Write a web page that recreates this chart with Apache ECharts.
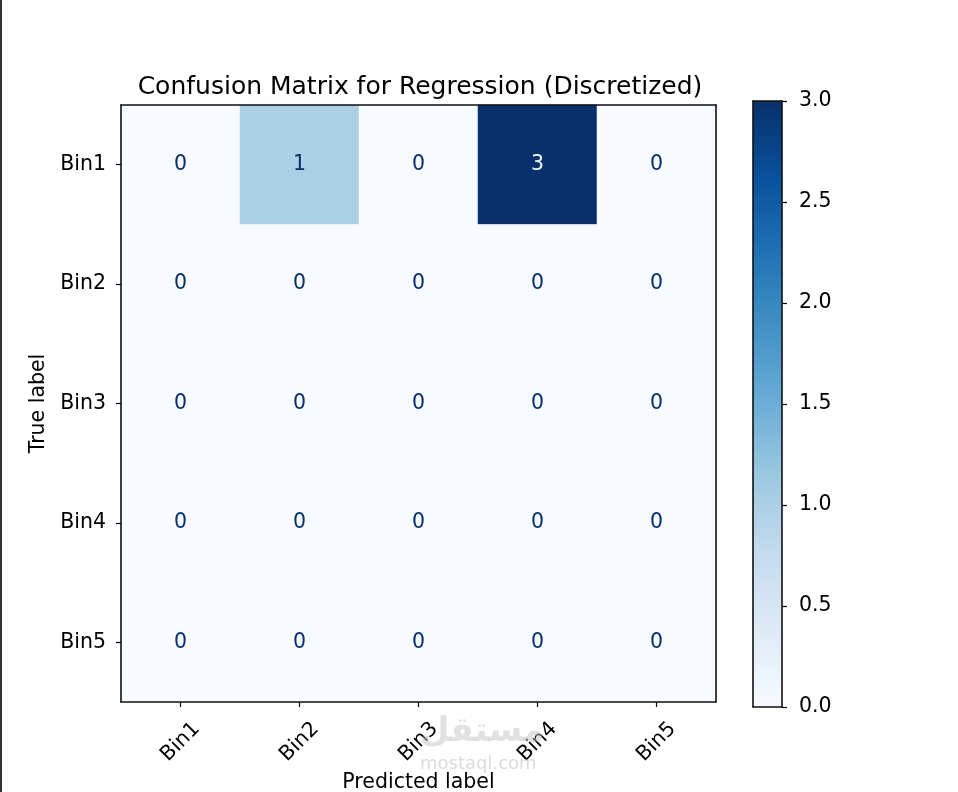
<!DOCTYPE html>
<html><head><meta charset="utf-8">
<script src="https://cdn.jsdelivr.net/npm/echarts@6/dist/echarts.min.js"></script>
<style>html,body{margin:0;padding:0;background:#fff}#c{width:958px;height:792px}</style>
</head><body><div id="c"></div>
<script>
const predictedLabels = ['Bin1','Bin2','Bin3','Bin4','Bin5'];
const trueLabels = ['Bin1','Bin2','Bin3','Bin4','Bin5'];
// rows = true label, columns = predicted label
const matrix = [
  [0,1,0,3,0],
  [0,0,0,0,0],
  [0,0,0,0,0],
  [0,0,0,0,0],
  [0,0,0,0,0]
];
const colorbarTicks = [0,0.5,1,1.5,2,2.5,3];
const titleText = 'Confusion Matrix for Regression (Discretized)';

const blues = ['#f7fbff','#deebf7','#c6dbef','#9ecae1','#6baed6','#4292c6','#2171b5','#08519c','#08306b'];
const FONT = 'DejaVu Sans';
const FS = 20.5;
const vmin = 0, vmax = Math.max(...matrix.flat());
const thresh = (vmin + vmax) / 2;

const cells = [];
matrix.forEach((row, r) => row.forEach((v, c) => {
  cells.push({value:[c, r, v], label:{color: v > thresh ? blues[0] : blues[8]}});
}));

const spine = {show:true, onZero:false, lineStyle:{color:'#111', width:1.6}};
const bare = {axisTick:{show:false}, axisLabel:{show:false}, splitLine:{show:false}};
const chart = echarts.init(document.getElementById('c'), null, {renderer:'canvas'});
const gradStops = blues.map((c,i)=>({offset: i/(blues.length-1), color: c}));
chart.setOption({
  animation:false,
  backgroundColor:'#fff',
  textStyle:{fontFamily:FONT},
  title:{text:titleText, left:415, top:70, textAlign:'center',
    textStyle:{fontFamily:FONT, fontSize:25, fontWeight:'normal', color:'#000'}},
  grid:[
    {left:121, top:105, width:595, height:597, show:false, outerBoundsMode:'none', containLabel:false},
    {left:753, top:101, width:29, height:606, show:false, outerBoundsMode:'none', containLabel:false}
  ],
  visualMap:{show:false, min:vmin, max:vmax, seriesIndex:0, inRange:{color:blues}},
  xAxis:[
    {type:'category', gridIndex:0, data:predictedLabels, position:'bottom', z:10,
     axisLine:spine, splitLine:{show:false},
     axisTick:{show:true, alignWithLabel:true, length:5, lineStyle:{color:'#000', width:1.2}},
     axisLabel:{rotate:45, align:'center', verticalAlign:'middle', margin:40, fontSize:FS, color:'#000', fontFamily:FONT},
     name:'Predicted label', nameLocation:'middle', nameGap:70,
     nameTextStyle:{fontSize:FS, color:'#000', fontFamily:FONT}},
    Object.assign({type:'category', gridIndex:1, data:['cb'], position:'bottom', z:10, axisLine:spine}, bare),
    Object.assign({type:'category', gridIndex:0, data:predictedLabels, position:'top', z:10, axisLine:spine}, bare),
    Object.assign({type:'category', gridIndex:1, data:['cb'], position:'top', z:10, axisLine:spine}, bare)
  ],
  yAxis:[
    {type:'category', gridIndex:0, data:trueLabels, inverse:true, position:'left', z:10,
     axisLine:spine, splitLine:{show:false},
     axisTick:{show:true, alignWithLabel:true, length:5, lineStyle:{color:'#000', width:1.2}},
     axisLabel:{margin:15, fontSize:FS, color:'#000', fontFamily:FONT},
     name:'True label', nameLocation:'middle', nameGap:72,
     nameTextStyle:{fontSize:FS, color:'#000', fontFamily:FONT}},
    {type:'value', gridIndex:1, min:vmin, max:vmax, interval:0.5, position:'right', z:10,
     axisLine:spine, splitLine:{show:false},
     axisTick:{show:true, length:5, lineStyle:{color:'#000', width:1.2}},
     axisLabel:{margin:17, fontSize:FS, color:'#000', fontFamily:FONT, formatter:v=>v.toFixed(1)}},
    Object.assign({type:'category', gridIndex:0, data:trueLabels, inverse:true, position:'right', z:10, axisLine:spine}, bare),
    Object.assign({type:'value', gridIndex:1, min:vmin, max:vmax, position:'left', z:10, axisLine:spine}, bare)
  ],
  series:[
    {type:'heatmap', xAxisIndex:0, yAxisIndex:0, data:cells,
     label:{show:true, fontSize:FS, fontFamily:FONT, formatter:p=>String(p.value[2])},
     itemStyle:{borderWidth:0}},
    {type:'bar', xAxisIndex:1, yAxisIndex:1, data:[vmax], barWidth:'100%', silent:true,
     itemStyle:{color:new echarts.graphic.LinearGradient(0,1,0,0,gradStops)}}
  ],
  graphic:[
    {type:'rect', left:0, top:0, shape:{width:2, height:792}, style:{fill:'#333'}, silent:true},
    {type:'text', left:420, top:715, style:{text:'مستقل', fontSize:34, fontWeight:'bold', fill:'rgba(195,195,195,0.5)', fontFamily:'DejaVu Sans'}, silent:true, z:100},
    {type:'text', left:420, top:755, style:{text:'mostaql.com', fontSize:18, fill:'rgba(195,195,195,0.6)', fontFamily:'DejaVu Sans'}, silent:true, z:100}
  ]
});
</script></body></html>
